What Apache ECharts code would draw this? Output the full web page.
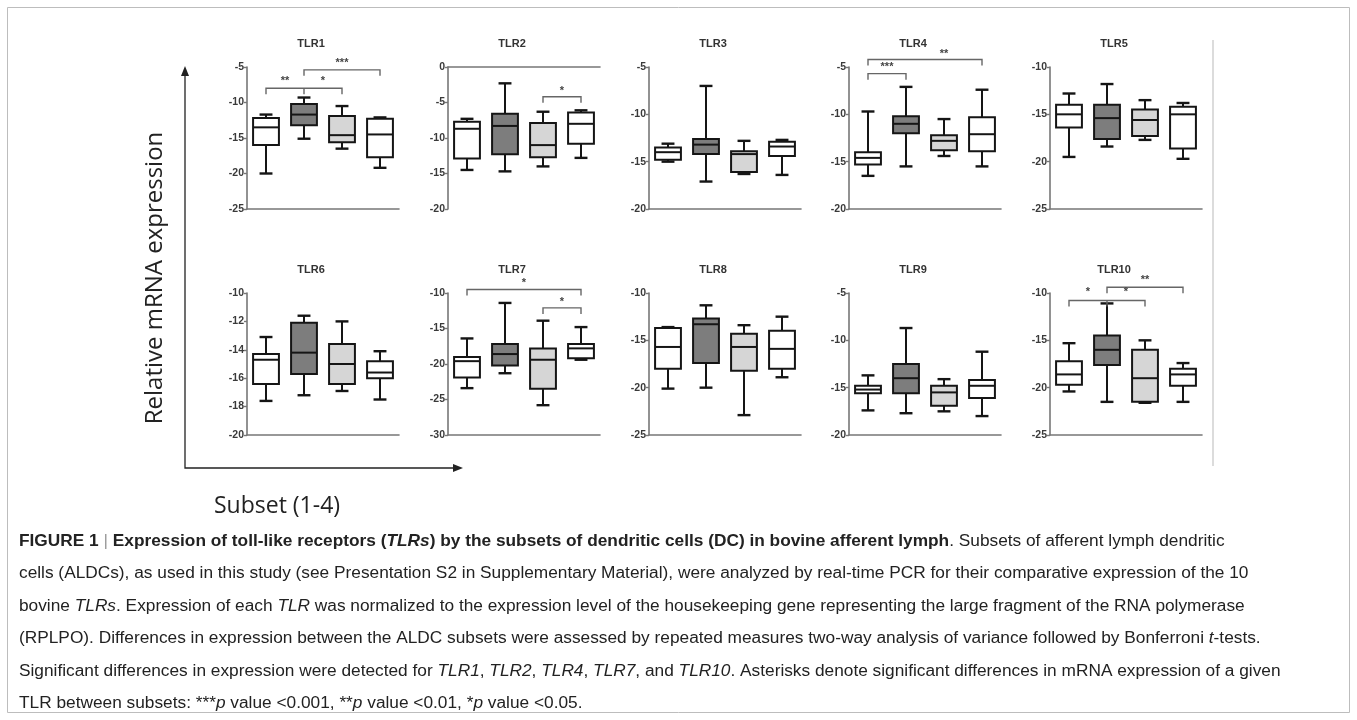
<!DOCTYPE html>
<html><head><meta charset="utf-8">
<script src="https://cdn.jsdelivr.net/npm/echarts@6/dist/echarts.min.js"></script>
<style>html,body{margin:0;padding:0;background:#fff}#c{width:1357px;height:720px}</style>
</head><body><div id="c"></div>
<script>
// ---------------- DATA ----------------
const panelNames = ['TLR1','TLR2','TLR3','TLR4','TLR5','TLR6','TLR7','TLR8','TLR9','TLR10'];
const subsets = ['1','2','3','4'];
const yMin  = [-25,-20,-20,-20,-25,-20,-30,-25,-20,-25];
const yMax  = [-5,   0, -5, -5,-10,-10,-10,-10, -5,-10];
const yStep = [5,    5,  5,  5,  5,  2,  5,  5,  5,  5];
// per subset: [min, Q1, median, Q3, max]
const tlr1  = [[-20.0,-16.0,-13.5,-12.2,-11.7],[-15.1,-13.2,-11.7,-10.2,-9.3],[-16.5,-15.6,-14.6,-11.9,-10.5],[-19.2,-17.7,-14.5,-12.3,-12.1]];
const tlr2  = [[-14.5,-12.9,-8.7,-7.7,-7.3],[-14.7,-12.3,-8.3,-6.6,-2.3],[-14.0,-12.7,-11.0,-7.9,-6.3],[-12.8,-10.8,-8.0,-6.4,-6.1]];
const tlr3  = [[-15.0,-14.8,-14.0,-13.5,-13.1],[-17.1,-14.2,-13.2,-12.6,-7.0],[-16.3,-16.1,-14.2,-13.9,-12.8],[-16.4,-14.4,-13.4,-12.9,-12.7]];
const tlr4  = [[-16.5,-15.3,-14.6,-14.0,-9.7],[-15.5,-12.0,-11.0,-10.2,-7.1],[-14.4,-13.8,-12.8,-12.2,-10.5],[-15.5,-13.9,-12.1,-10.3,-7.4]];
const tlr5  = [[-19.5,-16.4,-15.0,-14.0,-12.8],[-18.4,-17.6,-15.4,-14.0,-11.8],[-17.7,-17.3,-15.6,-14.5,-13.5],[-19.7,-18.6,-15.0,-14.2,-13.8]];
const tlr6  = [[-17.6,-16.4,-14.7,-14.3,-13.1],[-17.2,-15.7,-14.2,-12.1,-11.6],[-16.9,-16.4,-15.0,-13.6,-12.0],[-17.5,-16.0,-15.6,-14.8,-14.1]];
const tlr7  = [[-23.4,-21.9,-19.6,-19.0,-16.4],[-21.3,-20.2,-18.6,-17.2,-11.4],[-25.8,-23.5,-19.4,-17.8,-13.9],[-19.4,-19.2,-17.8,-17.2,-14.8]];
const tlr8  = [[-20.1,-18.0,-15.7,-13.7,-13.6],[-20.0,-17.4,-13.3,-12.7,-11.3],[-22.9,-18.2,-15.7,-14.3,-13.4],[-18.9,-18.0,-15.9,-14.0,-12.5]];
const tlr9  = [[-17.4,-15.6,-15.2,-14.8,-13.7],[-17.7,-15.6,-14.0,-12.5,-8.7],[-17.5,-16.9,-15.5,-14.8,-14.1],[-18.0,-16.1,-14.8,-14.2,-11.2]];
const tlr10 = [[-20.4,-19.7,-18.6,-17.2,-15.3],[-21.5,-17.6,-16.0,-14.5,-11.1],[-21.6,-21.5,-19.0,-16.0,-15.0],[-21.5,-19.8,-18.6,-18.0,-17.4]];
const panelData = [tlr1,tlr2,tlr3,tlr4,tlr5,tlr6,tlr7,tlr8,tlr9,tlr10];
// significance brackets: [panel, fromSubset, toSubset, yValue, middleLegSubset(-1 none)]
const brackets = [
  [0,0,2,-8.0,1],[0,1,3,-5.4,-1],
  [1,2,3,-4.2,-1],
  [3,0,1,-5.7,-1],[3,0,3,-4.2,-1],
  [6,0,3,-9.5,-1],[6,2,3,-12.1,-1],
  [9,0,2,-10.8,1],[9,1,3,-9.4,-1]
];
// star labels: [panel, fromSubset, toSubset, yValue, text]
const stars = [
  [0,0,1,-7.0,'**'],[0,1,2,-7.0,'*'],[0,1,3,-4.5,'***'],
  [1,2,3,-3.4,'*'],
  [3,0,1,-5.0,'***'],[3,1,3,-3.6,'**'],
  [6,0,3,-8.6,'*'],[6,2,3,-11.2,'*'],
  [9,0,1,-9.9,'*'],[9,1,2,-9.9,'*'],[9,1,3,-8.6,'**']
];

// ---------------- LAYOUT / STYLE ----------------
const colLeft = [247,448,649,849,1050];
const rowTop = [67,293];
const gw = 152, gh = 142;
const boxFill = ['#ffffff','#7d7d7d','#d6d6d6','#ffffff'];
const tickFont = 'Liberation Sans';

const grids=[], xAxes=[], yAxes=[], series=[], graphics=[];
for (let i=0;i<10;i++){
  const c=i%5, r=Math.floor(i/5);
  grids.push({left:colLeft[c], top:rowTop[r], width:gw, height:gh, containLabel:false});
  xAxes.push({gridIndex:i, type:'category', data:subsets, boundaryGap:true,
    axisLine:{show:true, lineStyle:{color:'#777', width:1.6}}, axisTick:{show:false}, axisLabel:{show:false}, splitLine:{show:false}});
  yAxes.push({gridIndex:i, type:'value', min:yMin[i], max:yMax[i], interval:yStep[i],
    axisLine:{show:true, onZero:false, lineStyle:{color:'#777', width:1.6}},
    axisTick:{show:true, length:3, lineStyle:{color:'#777', width:1.4}},
    axisLabel:{fontFamily:tickFont, fontWeight:'bold', fontSize:10.5, color:'#3a3a3a', margin:3},
    splitLine:{show:false}});
  const d = panelData[i].map((v,k)=>[k, v[0], v[1], v[2], v[3], v[4]]);
  series.push({type:'custom', xAxisIndex:i, yAxisIndex:i, data:d, silent:true,
    renderItem:(params, api)=>{
      const cat=api.value(0);
      const pMin=api.coord([cat,api.value(1)]), pQ1=api.coord([cat,api.value(2)]),
            pMed=api.coord([cat,api.value(3)]), pQ3=api.coord([cat,api.value(4)]), pMax=api.coord([cat,api.value(5)]);
      const bw=api.size([1,0])[0]*0.68, cw=bw*0.5, x=pMed[0];
      const ls={stroke:'#151515', lineWidth:2};
      return {type:'group', children:[
        {type:'line', shape:{x1:x,y1:pMax[1],x2:x,y2:pQ3[1]}, style:ls},
        {type:'line', shape:{x1:x,y1:pQ1[1],x2:x,y2:pMin[1]}, style:ls},
        {type:'line', shape:{x1:x-cw/2,y1:pMax[1],x2:x+cw/2,y2:pMax[1]}, style:{stroke:'#151515',lineWidth:2.4}},
        {type:'line', shape:{x1:x-cw/2,y1:pMin[1],x2:x+cw/2,y2:pMin[1]}, style:{stroke:'#151515',lineWidth:2.4}},
        {type:'rect', shape:{x:x-bw/2,y:pQ3[1],width:bw,height:pQ1[1]-pQ3[1]}, style:{fill:boxFill[cat],stroke:'#151515',lineWidth:2}},
        {type:'line', shape:{x1:x-bw/2,y1:pMed[1],x2:x+bw/2,y2:pMed[1]}, style:ls}
      ]};
    }});
  const bd = brackets.filter(b=>b[0]===i);
  if (bd.length){
    series.push({type:'custom', xAxisIndex:i, yAxisIndex:i, silent:true, clip:false,
      data:bd.map(b=>[b[1],b[2],b[3],b[4]]),
      renderItem:(params, api)=>{
        const y=api.value(2);
        const p1=api.coord([api.value(0),y]), p2=api.coord([api.value(1),y]);
        const leg=6, st={stroke:'#666', lineWidth:1.4, fill:null};
        const ch=[{type:'polyline', shape:{points:[[p1[0],p1[1]+leg],[p1[0],p1[1]],[p2[0],p2[1]],[p2[0],p2[1]+leg]]}, style:st}];
        const m=api.value(3);
        if (m>=0){ const pm=api.coord([m,y]); ch.push({type:'line', shape:{x1:pm[0],y1:pm[1],x2:pm[0],y2:pm[1]+leg}, style:st}); }
        return {type:'group', children:ch};
      }});
  }
  const sd = stars.filter(s=>s[0]===i);
  if (sd.length){
    series.push({type:'custom', xAxisIndex:i, yAxisIndex:i, silent:true, clip:false,
      data:sd.map(s=>[s[1],s[2],s[3]]),
      renderItem:(params, api)=>{
        const y=api.value(2);
        const p1=api.coord([api.value(0),y]), p2=api.coord([api.value(1),y]);
        return {type:'text', x:(p1[0]+p2[0])/2, y:p1[1], style:{text:sd[params.dataIndex][4], fill:'#444', font:'bold 11px "Liberation Sans"', textAlign:'center', textVerticalAlign:'middle'}};
      }});
  }
  graphics.push({type:'text', x:colLeft[c]+64, y:rowTop[r]-23, style:{text:panelNames[i], fill:'#333', font:'bold 11px "Liberation Sans"', textAlign:'center', textVerticalAlign:'middle'}});
}

// frame, side line, big arrows, axis names
graphics.push({type:'rect', shape:{x:7.5,y:7.5,width:1342,height:705}, style:{fill:null, stroke:'#bdbdbd', lineWidth:1}});
graphics.push({type:'line', shape:{x1:1213,y1:40,x2:1213,y2:466}, style:{stroke:'#d0d0d0', lineWidth:1.5}});
graphics.push({type:'polyline', shape:{points:[[185,74],[185,468],[455,468]]}, style:{stroke:'#222', lineWidth:1.3, fill:null}});
graphics.push({type:'polygon', shape:{points:[[185,66],[181,76],[189,76]]}, style:{fill:'#222'}});
graphics.push({type:'polygon', shape:{points:[[463,468],[453,464],[453,472]]}, style:{fill:'#222'}});
graphics.push({type:'text', x:155, y:278, rotation:Math.PI/2, style:{text:'Relative mRNA expression', fill:'#222', font:'24px "Open Sans"', textAlign:'center', textVerticalAlign:'middle'}});
graphics.push({type:'text', x:214, y:506, style:{text:'Subset (1-4)', fill:'#222', font:'23px "Open Sans"', textAlign:'left', textVerticalAlign:'middle'}});

// caption
const capLines = [
  '{b|FIGURE 1} {s||} {b|Expression of toll-like receptors (}{bi|TLRs}{b|) by the subsets of dendritic cells (DC) in bovine afferent lymph}{n|. Subsets of afferent lymph dendritic}',
  '{n|cells (ALDCs), as used in this study (see Presentation S2 in Supplementary Material), were analyzed by real-time PCR for their comparative expression of the 10}',
  '{n|bovine }{i|TLRs}{n|. Expression of each }{i|TLR}{n| was normalized to the expression level of the housekeeping gene representing the large fragment of the RNA polymerase}',
  '{n|(RPLPO). Differences in expression between the ALDC subsets were assessed by repeated measures two-way analysis of variance followed by Bonferroni }{i|t}{n|-tests.}',
  '{n|Significant differences in expression were detected for }{i|TLR1}{n|, }{i|TLR2}{n|, }{i|TLR4}{n|, }{i|TLR7}{n|, and }{i|TLR10}{n|. Asterisks denote significant differences in mRNA expression of a given}',
  '{n|TLR between subsets: ***}{i|p}{n| value <0.001, **}{i|p}{n| value <0.01, *}{i|p}{n| value <0.05.}'
];
const capFont = 'Liberation Sans';
const capSize = 17.3;
const rich = {
  n:{fontFamily:capFont,fontSize:capSize,fill:'#222'},
  b:{fontFamily:capFont,fontSize:capSize,fontWeight:'bold',fill:'#222'},
  bi:{fontFamily:capFont,fontSize:capSize,fontWeight:'bold',fontStyle:'italic',fill:'#222'},
  i:{fontFamily:capFont,fontSize:capSize,fontStyle:'italic',fill:'#222'},
  s:{fontFamily:capFont,fontSize:capSize,fill:'#999'}
};
capLines.forEach((t,k)=>{
  graphics.push({type:'text', x:19, y:541+k*32.5, style:{text:t, rich:rich, fontFamily:capFont, fontSize:capSize, fill:'#222', textAlign:'left', textVerticalAlign:'middle'}});
});

const chart = echarts.init(document.getElementById('c'), null, {renderer:'canvas'});
chart.setOption({animation:false, backgroundColor:'#fff', grid:grids, xAxis:xAxes, yAxis:yAxes, series:series, graphic:graphics});
</script></body></html>
